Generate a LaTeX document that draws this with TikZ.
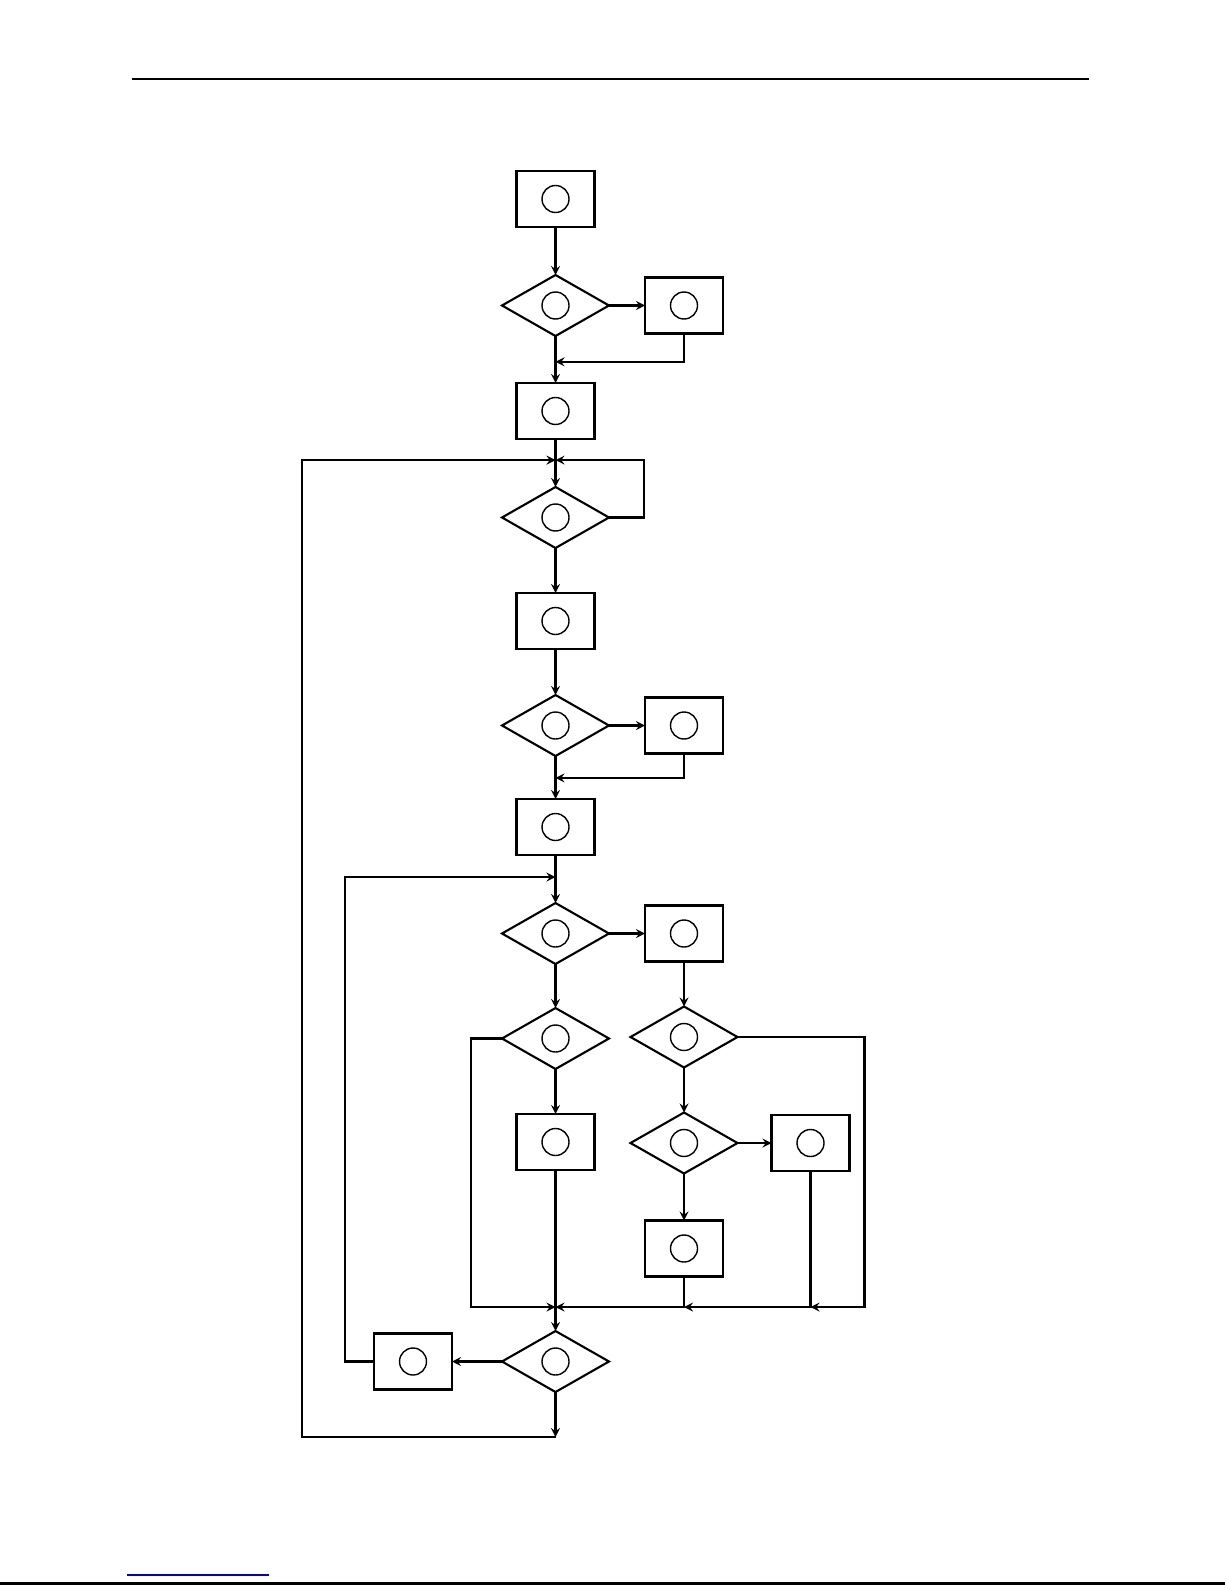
\documentclass[tikz,border=0pt]{standalone}
\usetikzlibrary{shapes.geometric}
\usetikzlibrary{positioning}
\usetikzlibrary{calc}
\begin{document}
\begin{tikzpicture}[>=stealth,node distance = 0.9cm and 0.7cm,line width=1.25pt]
\tikzstyle{blk}=[draw,rectangle,outer sep=0pt,minimum width=1.56cm,minimum height=1.12cm,line width=1.3pt,
  path picture={\draw[line width=0.8pt] (path picture bounding box.center) circle (0.27cm);}]
\tikzstyle{dec}=[draw,diamond,outer sep=0pt,minimum width=2.14cm,minimum height=1.22cm,inner sep=0pt,line width=1.2pt,
  path picture={\draw[line width=0.8pt] (path picture bounding box.center) circle (0.27cm);}]
\path[use as bounding box] (0,0) rectangle (24.5,-31.7);
% page rules
\draw[line width=1.7pt] (2.64,-1.58) -- (21.78,-1.58);
\draw[line width=0.6pt,blue!80!black] (2.54,-31.5) -- (5.38,-31.5);
\draw[line width=1.7pt] (0,-31.66) -- (24.5,-31.66);
% nodes
\node[blk]	(B1)	at (11.11,-3.98)		{};
\node[dec]	(D1)	[below=0.96cm of B1]	{};
\node[blk]	(B2)	[right=0.72cm of D1]	{};
\node[blk]	(B3)	[below=0.94cm of D1]	{};
\node[dec]	(D2)	[below=0.96cm of B3]	{};
\node[blk]	(B4)	[below=0.9cm of D2]		{};
\node[dec]	(D3)	[below=0.92cm of B4]	{};
\node[blk]	(B5)	[right=0.72cm of D3]	{};
\node[blk]	(B6)	[below=0.86cm of D3]	{};
\node[dec]	(D4)	[below=0.96cm of B6]	{};
\node[blk]	(B7)	[right=0.72cm of D4]	{};
\node[dec]	(D5)	[below=0.88cm of D4]	{};
\node[dec]	(D6)	[below=0.9cm of B7]		{};
\node[blk]	(B8)	[below=0.9cm of D5]		{};
\node[dec]	(D7)	[below=0.9cm of D6]		{};
\node[blk]	(B9)	[right=0.68cm of D7]	{};
\node[blk]	(B10)	[below=0.94cm of D7]	{};
\node[dec]	(D8)	[below=3.22cm of B8]	{};
\node[blk]	(B11)	[left=1cm of D8]		{};
% junctions
\coordinate (r1) at ($(D1.south)!0.55!(B3.north)$);
\coordinate (j2) at ($(B3.south)!0.44!(D2.north)$);
\coordinate (r2) at ($(D3.south)!0.51!(B6.north)$);
\coordinate (j3) at ($(B6.south)!0.46!(D4.north)$);
\coordinate (m0) at ([yshift=0.48cm]D8.north);
\coordinate (m1) at (B10.south |- m0);
\coordinate (m2) at (B9.south |- m0);
\coordinate (c9) at ([yshift=-0.9cm]D8.south);
\coordinate (l1) at (6.04,0);
\path[->]
     (B1)	edge	(D1)
     (D1)	edge	(B2)
     (D1)	edge	(B3)
     (B3)	edge	(D2)
     (D2)	edge	(B4)
     (B4)	edge	(D3)
     (D3)	edge	(B5)
     (D3)	edge	(B6)
     (B6)	edge	(D4)
     (D4)	edge	(B7)
     (D4)	edge	(D5)
     (B7)	edge	(D6)
     (D5)	edge	(B8)
     (D6)	edge	(D7)
     (D7)	edge	(B9)
     (D7)	edge	(B10)
     (m0)	edge	(D8)
     (D8)	edge	(B11)
     (D8)	edge	(c9);
\draw[->] (B2.south) |- (r1);
\draw[->] (D2.east) -- ++(0.7,0) |- (j2);
\draw[->] (c9) -| (l1 |- j2) -- (j2);
\draw[->] (B5.south) |- (r2);
\draw[->] (B11.west) -- ++(-0.58,0) |- (j3);
\draw[->] (D5.west) -- ++(-0.62,0) |- (m0);
\draw (B8.south) -- (m0);
\draw[->] (B10.south) |- (m0);
\draw[->] (B9.south) |- (m1);
\draw[->] (D6.east) -- ++(2.54,0) |- (m2);
\end{tikzpicture}
\end{document}
